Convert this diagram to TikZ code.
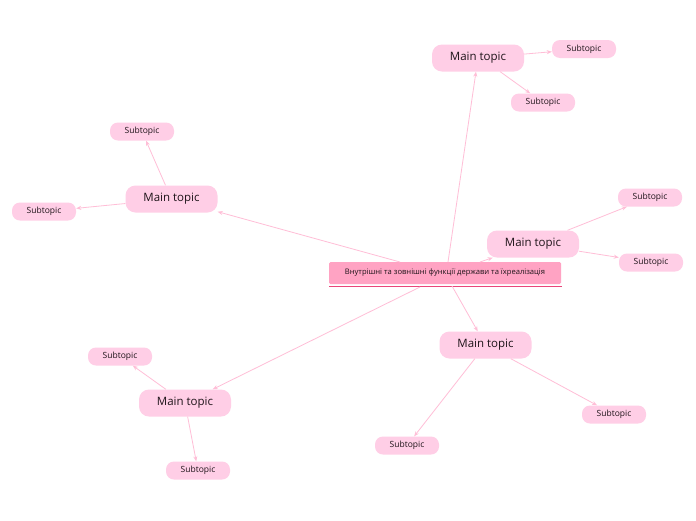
\documentclass[tikz,border=0pt]{standalone}
\usepackage{fontspec}
\setmainfont{Open Sans}
\usetikzlibrary{arrows.meta}
\definecolor{mainfill}{RGB}{255,206,230}
\definecolor{centfill}{RGB}{255,163,195}
\definecolor{uline}{RGB}{232,70,122}
\definecolor{conn}{RGB}{255,190,215}
\definecolor{txt}{RGB}{30,20,25}
\tikzset{
  maintopic/.style={draw=none,fill=mainfill,rounded corners=10pt,minimum width=92pt,minimum height=27pt,inner sep=0pt,text=txt,font=\fontsize{11.5}{13}\selectfont},
  subtopic/.style={draw=none,fill=mainfill,rounded corners=8pt,minimum width=64pt,minimum height=18pt,inner sep=0pt,text=txt,font=\fontsize{8.5}{10}\selectfont},
  central/.style={draw=none,fill=centfill,rounded corners=1.5pt,minimum width=232pt,minimum height=22pt,inner sep=0pt,text=txt,font=\fontsize{7.6}{9}\selectfont},
  link/.style={draw=conn,line width=0.8pt,-{Stealth[length=5pt,width=4pt]}},
}
\begin{document}
\begin{tikzpicture}[x=1pt,y=-1pt]
\useasboundingbox[fill=white] (0,0) rectangle (696,520);
\node[central] (c) at (445,273) {Внутрішні та зовнішні функції держави та їхреалізація};
\coordinate (ul1) at (329,286);
\coordinate (ul2) at (562,286);
\draw[uline,line width=1pt] (ul1) -- (ul2);

\node[maintopic] (m1) at (478,58) {Main topic};
\node[maintopic] (m2) at (171.5,199) {Main topic};
\node[maintopic] (m3) at (533,244) {Main topic};
\node[maintopic] (m4) at (485.5,345) {Main topic};
\node[maintopic] (m5) at (185,403) {Main topic};

\node[subtopic] (s1a) at (584,49) {Subtopic};
\node[subtopic] (s1b) at (543,102.5) {Subtopic};
\node[subtopic] (s2a) at (142,131.5) {Subtopic};
\node[subtopic] (s2b) at (44,211.5) {Subtopic};
\node[subtopic] (s3a) at (650,197.5) {Subtopic};
\node[subtopic] (s3b) at (651,262.5) {Subtopic};
\node[subtopic] (s4a) at (614,414.5) {Subtopic};
\node[subtopic] (s4b) at (407,445.5) {Subtopic};
\node[subtopic] (s5a) at (120,356.5) {Subtopic};
\node[subtopic] (s5b) at (198,470.5) {Subtopic};

\coordinate (c1) at (448,262);
\coordinate (c2) at (400,262);
\coordinate (c3) at (480,262);
\coordinate (c4) at (452,286);
\coordinate (c5) at (420,287);
\draw[link] (c1) -- (m1);
\draw[link] (c2) -- (m2);
\draw[link] (c3) -- (m3);
\draw[link] (c4) -- (m4);
\draw[link] (c5) -- (m5);

\draw[link] (m1) -- (s1a);
\draw[link] (m1.south east) ++(-24,0) coordinate (m1b) (m1b) -- (s1b);
\draw[link] (m2) -- (s2a);
\draw[link] (m2) -- (s2b);
\draw[link] (m3) -- (s3a);
\draw[link] (m3) -- (s3b);
\draw[link] (m4) -- (s4a);
\draw[link] (m4) -- (s4b);
\draw[link] (m5) -- (s5a);
\draw[link] (m5) -- (s5b);
\end{tikzpicture}
\end{document}
